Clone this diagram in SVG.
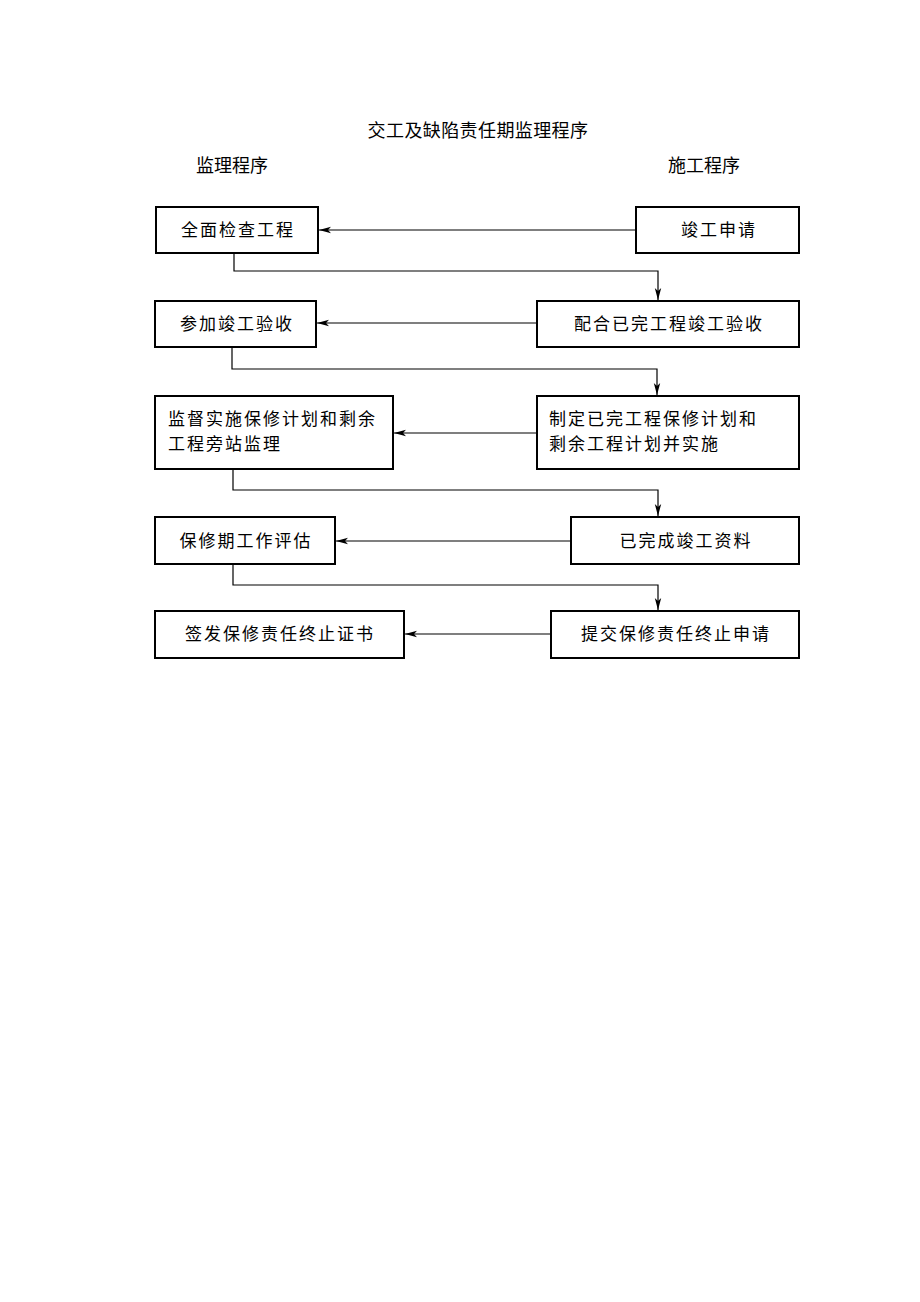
<svg xmlns="http://www.w3.org/2000/svg" width="920" height="1302" viewBox="0 0 920 1302">
<style>
.box{fill:#fff;stroke:#000;stroke-width:2}
.t{font-family:"Noto Sans CJK SC","Noto Sans CJK JP",sans-serif;font-size:17px;letter-spacing:2px;fill:#000}
.c{text-anchor:middle}
.h{font-family:"Noto Sans CJK SC","Noto Sans CJK JP",sans-serif;font-size:18px;fill:#000}
.ln{fill:none;stroke:#000;stroke-width:1.2}
</style>
<defs>
<marker id="ar" viewBox="0 0 12 8" refX="12" refY="4" markerWidth="12" markerHeight="8" markerUnits="userSpaceOnUse" orient="auto">
<path d="M0,0.8 L12,4 L0,7.2 L3,4 Z" fill="#000"/>
</marker>
</defs>
<rect width="920" height="1302" fill="#fff"/>
<text class="h" x="478" y="137" text-anchor="middle" letter-spacing="0.4">交工及缺陷责任期监理程序</text>
<text class="h" x="232" y="172" text-anchor="middle">监理程序</text>
<text class="h" x="704" y="172" text-anchor="middle">施工程序</text>

<g id="a1"><rect class="box" x="156" y="207" width="162" height="46"/><text class="t c" x="238" y="236">全面检查工程</text></g>
<g id="b1"><rect class="box" x="636" y="207" width="163" height="46"/><text class="t c" x="719" y="236">竣工申请</text></g>
<g id="a2"><rect class="box" x="155" y="301" width="161" height="46"/><text class="t c" x="237" y="330">参加竣工验收</text></g>
<g id="b2"><rect class="box" x="537" y="301" width="262" height="46"/><text class="t c" x="669" y="330">配合已完工程竣工验收</text></g>
<g id="a3"><rect class="box" x="155" y="396" width="238" height="73"/><text class="t" x="168" y="425">监督实施保修计划和剩余</text><text class="t" x="168" y="450">工程旁站监理</text></g>
<g id="b3"><rect class="box" x="537" y="396" width="262" height="73"/><text class="t" x="549" y="425">制定已完工程保修计划和</text><text class="t" x="549" y="450">剩余工程计划并实施</text></g>
<g id="a4"><rect class="box" x="155" y="517" width="180" height="47"/><text class="t c" x="246" y="547">保修期工作评估</text></g>
<g id="b4"><rect class="box" x="571" y="517" width="228" height="47"/><text class="t c" x="686" y="547">已完成竣工资料</text></g>
<g id="a5"><rect class="box" x="155" y="611" width="249" height="47"/><text class="t c" x="280" y="640">签发保修责任终止证书</text></g>
<g id="b5"><rect class="box" x="551" y="611" width="248" height="47"/><text class="t c" x="676" y="640">提交保修责任终止申请</text></g>

<g id="connectors">
<path class="ln" d="M636,230 H319" marker-end="url(#ar)"/>
<path class="ln" d="M537,323 H317" marker-end="url(#ar)"/>
<path class="ln" d="M537,433 H394" marker-end="url(#ar)"/>
<path class="ln" d="M571,541 H336" marker-end="url(#ar)"/>
<path class="ln" d="M551,634 H405" marker-end="url(#ar)"/>
<path class="ln" d="M234,253 V271 H658 V300" marker-end="url(#ar)"/>
<path class="ln" d="M232,347 V369 H657 V395" marker-end="url(#ar)"/>
<path class="ln" d="M233,469 V490 H658 V516" marker-end="url(#ar)"/>
<path class="ln" d="M233,564 V585 H658 V610" marker-end="url(#ar)"/>
</g>
</svg>
